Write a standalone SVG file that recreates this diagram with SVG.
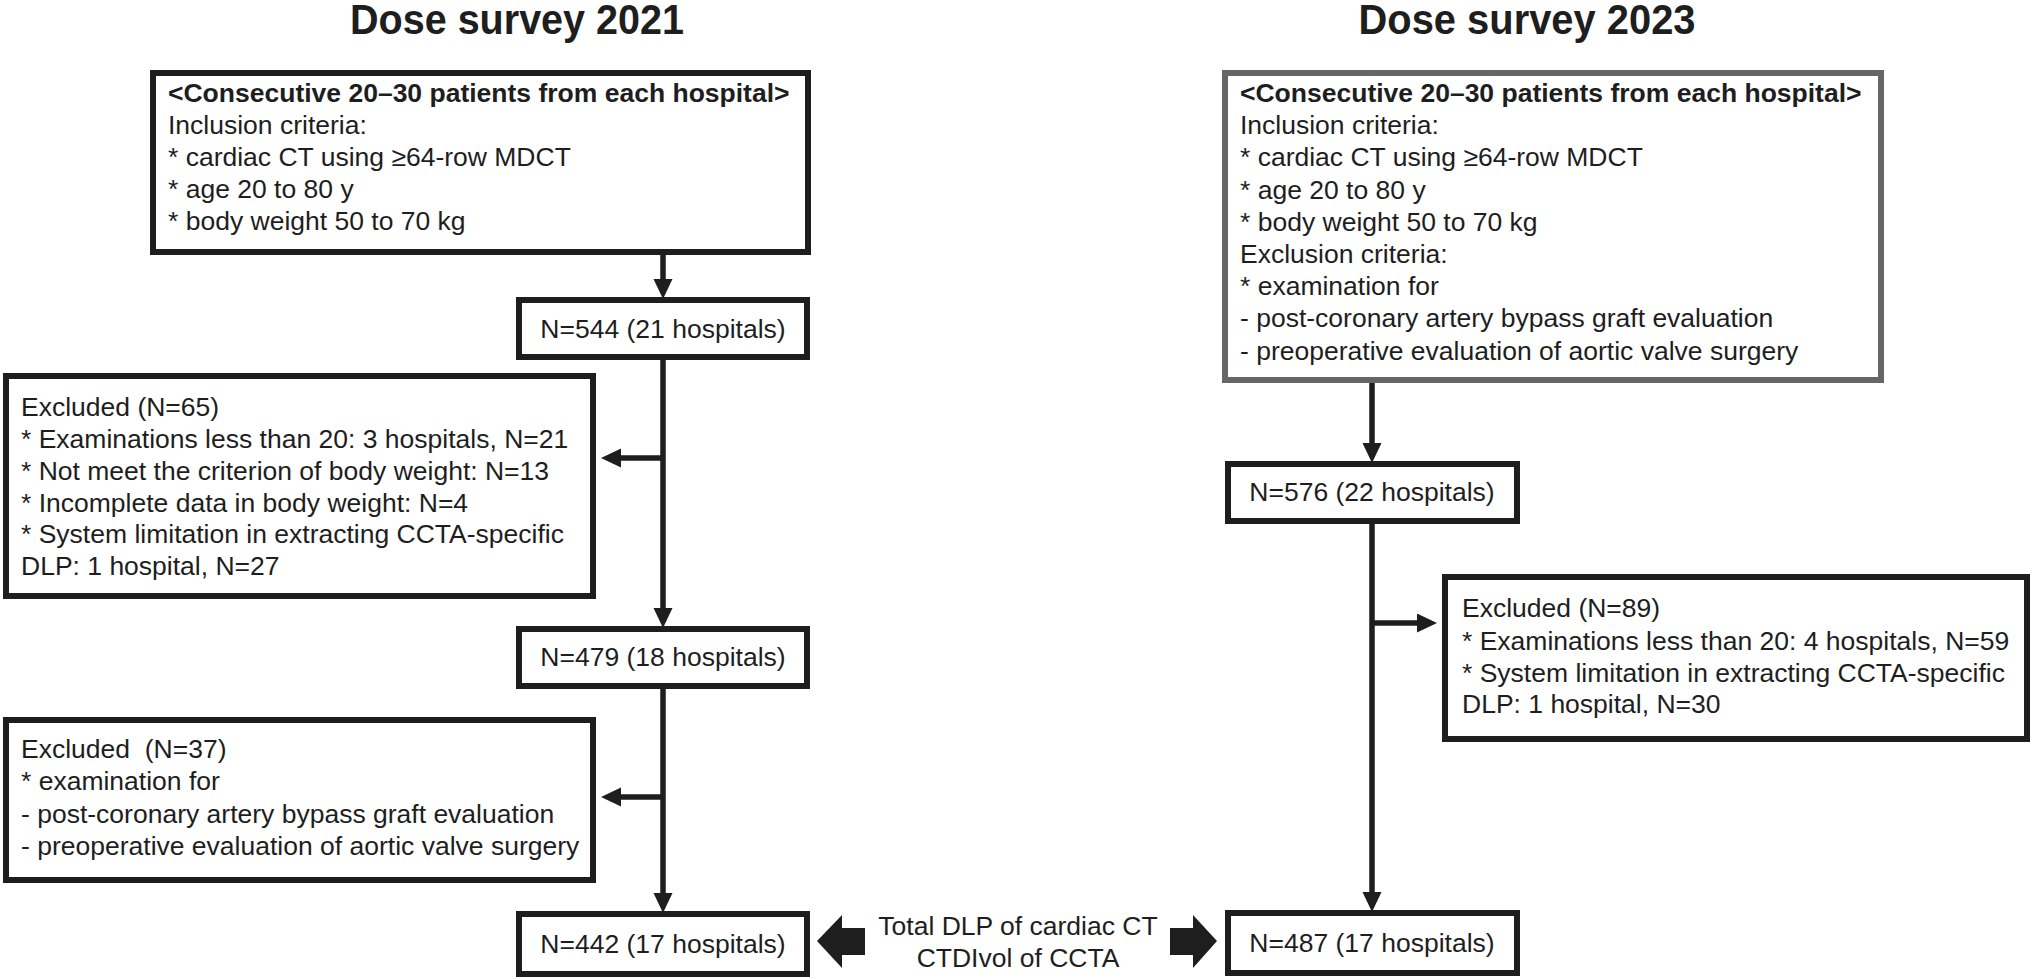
<svg xmlns="http://www.w3.org/2000/svg" width="2032" height="979" viewBox="0 0 2032 979">
<style>
  .box{fill:#fff;stroke:#1e1e1e;stroke-width:6}
  .gbox{fill:#fff;stroke:#666;stroke-width:6}
  .t{font-family:"Liberation Sans",Arial,sans-serif;font-size:26.5px;fill:#1e1e1e;white-space:pre}
  .b{font-weight:bold}
  .title{font-family:"Liberation Sans",Arial,sans-serif;font-size:42px;font-weight:bold;fill:#1e1e1e;text-anchor:middle}
  .c{text-anchor:middle}
  .ln{fill:none;stroke:#1e1e1e;stroke-width:5.5}
  .blk{fill:#1e1e1e}
</style>
<defs>
  <marker id="ah" markerUnits="userSpaceOnUse" markerWidth="22" markerHeight="20" refX="1" refY="9.5" orient="auto">
    <path d="M0,0 L20,9.5 L0,19 z" fill="#1e1e1e"/>
  </marker>
</defs>
<rect width="2032" height="979" fill="#fff"/>

<text class="title" x="517" y="34" textLength="334" lengthAdjust="spacingAndGlyphs">Dose survey 2021</text>
<text class="title" x="1527" y="34" textLength="337" lengthAdjust="spacingAndGlyphs">Dose survey 2023</text>

<g id="connectors">
  <path class="ln" d="M663,255 V280" marker-end="url(#ah)"/>
  <path class="ln" d="M663,360 V609" marker-end="url(#ah)"/>
  <path class="ln" d="M663,458 H620" marker-end="url(#ah)"/>
  <path class="ln" d="M663,689 V894" marker-end="url(#ah)"/>
  <path class="ln" d="M663,797 H620" marker-end="url(#ah)"/>
  <path class="ln" d="M1372,383 V444" marker-end="url(#ah)"/>
  <path class="ln" d="M1372,524 V893" marker-end="url(#ah)"/>
  <path class="ln" d="M1372,623 H1418" marker-end="url(#ah)"/>
  <polygon class="blk" points="817,941 842,915 842,928 865,928 865,955 842,955 842,968"/>
  <polygon class="blk" points="1170,928 1193,928 1193,915 1217,941 1193,968 1193,955 1170,955"/>
</g>

<g id="inclusion2021">
  <rect class="box" x="153" y="73" width="655" height="179"/>
  <text class="t b" x="168" y="102">&lt;Consecutive 20–30 patients from each hospital&gt;</text>
  <text class="t" x="168" y="134">Inclusion criteria:</text>
  <text class="t" x="168" y="166">* cardiac CT using ≥64-row MDCT</text>
  <text class="t" x="168" y="198">* age 20 to 80 y</text>
  <text class="t" x="168" y="230">* body weight 50 to 70 kg</text>
</g>

<g id="n544">
  <rect class="box" x="519" y="300" width="288" height="57"/>
  <text class="t c" x="663" y="338">N=544 (21 hospitals)</text>
</g>

<g id="excluded65">
  <rect class="box" x="6" y="376" width="587" height="220"/>
  <text class="t" x="21" y="416">Excluded (N=65)</text>
  <text class="t" x="21" y="448">* Examinations less than 20: 3 hospitals, N=21</text>
  <text class="t" x="21" y="480">* Not meet the criterion of body weight: N=13</text>
  <text class="t" x="21" y="512">* Incomplete data in body weight: N=4</text>
  <text class="t" x="21" y="543">* System limitation in extracting CCTA-specific</text>
  <text class="t" x="21" y="575">DLP: 1 hospital, N=27</text>
</g>

<g id="n479">
  <rect class="box" x="519" y="629" width="288" height="57"/>
  <text class="t c" x="663" y="666">N=479 (18 hospitals)</text>
</g>

<g id="excluded37">
  <rect class="box" x="6" y="720" width="587" height="160"/>
  <text class="t" x="21" y="758">Excluded  (N=37)</text>
  <text class="t" x="21" y="790">* examination for</text>
  <text class="t" x="21" y="823">- post-coronary artery bypass graft evaluation</text>
  <text class="t" x="21" y="855">- preoperative evaluation of aortic valve surgery</text>
</g>

<g id="n442">
  <rect class="box" x="519" y="914" width="288" height="60"/>
  <text class="t c" x="663" y="953">N=442 (17 hospitals)</text>
</g>

<g id="inclusion2023">
  <rect class="gbox" x="1225" y="73" width="656" height="307"/>
  <text class="t b" x="1240" y="102">&lt;Consecutive 20–30 patients from each hospital&gt;</text>
  <text class="t" x="1240" y="134">Inclusion criteria:</text>
  <text class="t" x="1240" y="166">* cardiac CT using ≥64-row MDCT</text>
  <text class="t" x="1240" y="199">* age 20 to 80 y</text>
  <text class="t" x="1240" y="231">* body weight 50 to 70 kg</text>
  <text class="t" x="1240" y="263">Exclusion criteria:</text>
  <text class="t" x="1240" y="295">* examination for</text>
  <text class="t" x="1240" y="327">- post-coronary artery bypass graft evaluation</text>
  <text class="t" x="1240" y="360">- preoperative evaluation of aortic valve surgery</text>
</g>

<g id="n576">
  <rect class="box" x="1228" y="464" width="289" height="57"/>
  <text class="t c" x="1372" y="501">N=576 (22 hospitals)</text>
</g>

<g id="excluded89">
  <rect class="box" x="1445" y="577" width="582" height="162"/>
  <text class="t" x="1462" y="617">Excluded (N=89)</text>
  <text class="t" x="1462" y="650">* Examinations less than 20: 4 hospitals, N=59</text>
  <text class="t" x="1462" y="682">* System limitation in extracting CCTA-specific</text>
  <text class="t" x="1462" y="713">DLP: 1 hospital, N=30</text>
</g>

<g id="n487">
  <rect class="box" x="1228" y="913" width="289" height="60"/>
  <text class="t c" x="1372" y="952">N=487 (17 hospitals)</text>
</g>

<g id="outcome">
  <text class="t c" x="1018" y="935">Total DLP of cardiac CT</text>
  <text class="t c" x="1018" y="967">CTDIvol of CCTA</text>
</g>
</svg>
